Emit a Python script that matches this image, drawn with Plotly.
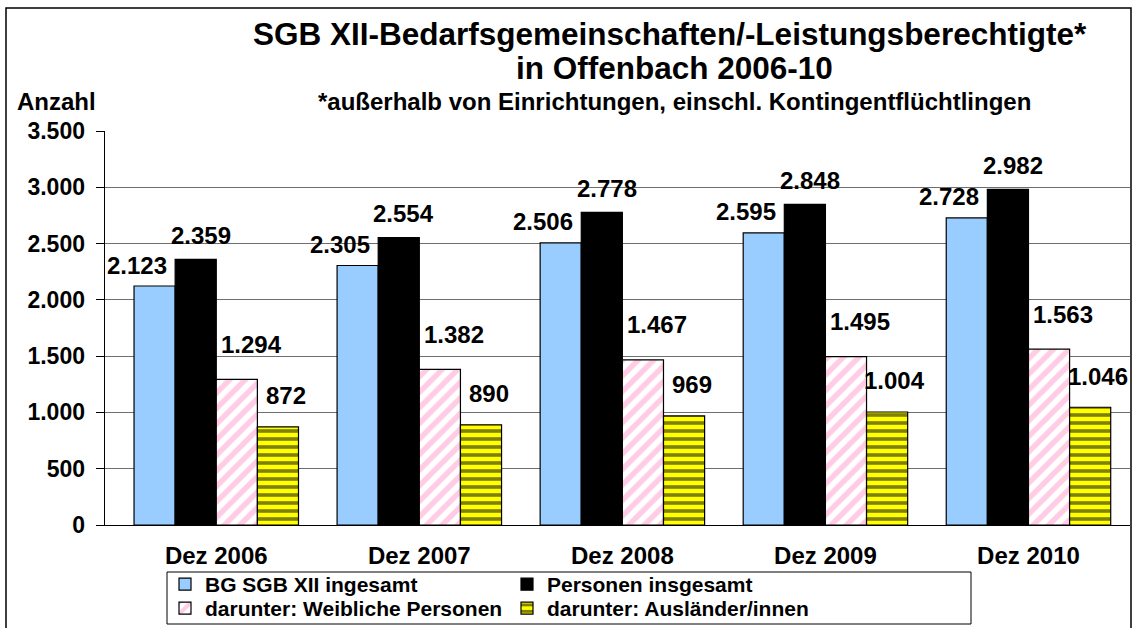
import plotly.graph_objects as go

categories = ["Dez 2006", "Dez 2007", "Dez 2008", "Dez 2009", "Dez 2010"]
bg_sgb = [2123, 2305, 2506, 2595, 2728]
personen = [2359, 2554, 2778, 2848, 2982]
weiblich = [1294, 1382, 1467, 1495, 1563]
auslaender = [872, 890, 969, 1004, 1046]
series_names = ["BG SGB XII ingesamt", "Personen insgesamt",
                "darunter: Weibliche Personen", "darunter: Ausländer/innen"]
y_ticks = [0, 500, 1000, 1500, 2000, 2500, 3000, 3500]

FONT = "Arial, Liberation Sans, sans-serif"
W, H = 1132, 628
ML, MR, MT, MB = 105, 2, 131, 103
PW, PH = W - ML - MR, H - MT - MB
BARGAP = 0.19


def px(xp):
    return (xp - ML) / PW


def py(yp):
    return (H - MB - yp) / PH


def de(v):
    return f"{v:,}".replace(",", ".")


series = [bg_sgb, personen, weiblich, auslaender]
styles = [
    dict(color="#99CCFF"),
    dict(color="#000000"),
    dict(color="white", pattern=dict(shape="/", fgcolor="#FF99CC", bgcolor="white",
                                     size=11, solidity=0.5)),
    dict(color="#FFFF00", pattern=dict(shape="-", fgcolor="#000000", bgcolor="#FFFF00",
                                       size=8, solidity=0.45)),
]
legend_of = ["legend", "legend", "legend2", "legend2"]
# label offsets (px) relative to bar centre / bar top, per series
label_dx = [-17, 5, 14, 7]
label_dy = [21, 24, 35, 31]

fig = go.Figure()
for name, vals, st, lg in zip(series_names, series, styles, legend_of):
    fig.add_trace(go.Bar(
        x=categories, y=vals, name=name, legend=lg,
        marker=dict(line=dict(color="black", width=1.2), **st),
        hoverinfo="skip",
    ))

bar_px = PW / len(categories) * (1 - BARGAP) / len(series)
annotations = []
for i, vals in enumerate(series):
    for c, v in zip(categories, vals):
        annotations.append(dict(
            x=c, y=v, xref="x", yref="y", text=de(v),
            showarrow=False, xshift=(i - 1.5) * bar_px + label_dx[i], yshift=label_dy[i],
            xanchor="center", yanchor="middle",
            font=dict(size=24, color="black", family=FONT, weight="bold"),
        ))

annotations += [
    dict(text="SGB XII-Bedarfsgemeinschaften/-Leistungsberechtigte*", x=px(670), y=py(34),
         xref="paper", yref="paper", showarrow=False, xanchor="center", yanchor="middle",
         font=dict(size=31.5, family=FONT, color="black", weight="bold")),
    dict(text="in Offenbach 2006-10", x=px(674), y=py(68),
         xref="paper", yref="paper", showarrow=False, xanchor="center", yanchor="middle",
         font=dict(size=31.5, family=FONT, color="black", weight="bold")),
    dict(text="*außerhalb von Einrichtungen, einschl. Kontingentflüchtlingen", x=px(674), y=py(102),
         xref="paper", yref="paper", showarrow=False, xanchor="center", yanchor="middle",
         font=dict(size=24, family=FONT, color="black", weight="bold")),
    dict(text="Anzahl", x=px(56), y=py(102),
         xref="paper", yref="paper", showarrow=False, xanchor="center", yanchor="middle",
         font=dict(size=24, family=FONT, color="black", weight="bold")),
]

shapes = [
    dict(type="rect", xref="paper", yref="paper", x0=px(6), x1=px(1131), y0=py(660), y1=py(8),
         line=dict(color="black", width=1.5), fillcolor="rgba(0,0,0,0)", layer="above"),
    dict(type="rect", xref="paper", yref="paper", x0=px(167), x1=px(971), y0=py(624), y1=py(572),
         line=dict(color="black", width=1), fillcolor="rgba(0,0,0,0)"),
]

legend_common = dict(orientation="h", xanchor="left", yanchor="top",
                     entrywidth=297, itemwidth=30, bgcolor="rgba(0,0,0,0)",
                     font=dict(size=21, family=FONT, color="black", weight="bold"),
                     traceorder="normal")

fig.update_layout(
    width=W, height=H,
    margin=dict(l=ML, r=MR, t=MT, b=MB, pad=0, autoexpand=False),
    paper_bgcolor="white", plot_bgcolor="white",
    font=dict(family=FONT, color="black", size=22, weight="bold"),
    barmode="group", bargap=BARGAP, bargroupgap=0,
    showlegend=True,
    legend=dict(x=px(165), y=py(564), **legend_common),
    legend2=dict(x=px(165), y=py(588), **legend_common),
    annotations=annotations,
    shapes=shapes,
    separators=",.",
)
fig.update_yaxes(range=[0, 3500], tickvals=y_ticks,
                 ticktext=[de(v) + "\u00a0" for v in y_ticks], automargin=False,
                 showgrid=True, gridcolor="#6e6e6e", gridwidth=1,
                 showline=True, linecolor="black", linewidth=1,
                 ticks="outside", ticklen=8, tickcolor="black",
                 zeroline=False, mirror=False,
                 tickfont=dict(size=23, family=FONT, color="black", weight="bold"))
fig.update_xaxes(showline=True, linecolor="black", linewidth=1, ticks="", automargin=False,
                 ticklabelstandoff=9,
                 tickfont=dict(size=24, family=FONT, color="black", weight="bold"))

fig.write_html("out.html", config={"displayModeBar": False},
               post_script="document.body.style.margin='0';")
